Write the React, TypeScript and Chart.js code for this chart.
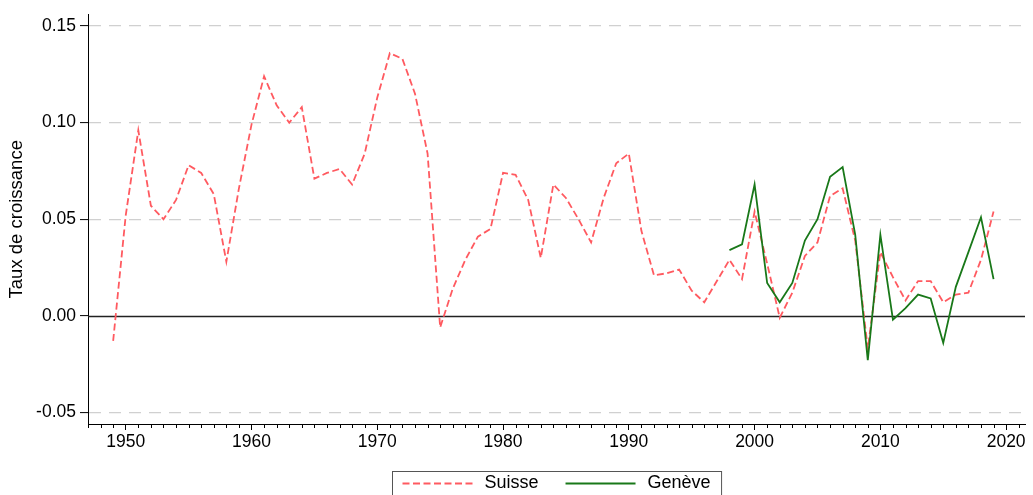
import React, { useEffect, useRef } from "react";
import { Chart, registerables } from "chart.js";

Chart.register(...registerables);

const FONT = "'Liberation Sans', Arial, Helvetica, sans-serif";

const suisseYears = [
  1949, 1950, 1951, 1952, 1953, 1954, 1955, 1956, 1957, 1958, 1959,
  1960, 1961, 1962, 1963, 1964, 1965, 1966, 1967, 1968, 1969,
  1970, 1971, 1972, 1973, 1974, 1975, 1976, 1977, 1978, 1979,
  1980, 1981, 1982, 1983, 1984, 1985, 1986, 1987, 1988, 1989,
  1990, 1991, 1992, 1993, 1994, 1995, 1996, 1997, 1998, 1999,
  2000, 2001, 2002, 2003, 2004, 2005, 2006, 2007, 2008, 2009,
  2010, 2011, 2012, 2013, 2014, 2015, 2016, 2017, 2018, 2019,
];
const suisseValues = [
  -0.013, 0.052, 0.096, 0.057, 0.05, 0.06, 0.078, 0.074, 0.063, 0.028, 0.066,
  0.099, 0.124, 0.109, 0.1, 0.108, 0.071, 0.074, 0.076, 0.068, 0.084,
  0.113, 0.136, 0.133, 0.115, 0.084, -0.006, 0.014, 0.029, 0.041, 0.045,
  0.074, 0.073, 0.06, 0.03, 0.068, 0.061, 0.05, 0.038, 0.061, 0.079,
  0.084, 0.044, 0.021, 0.022, 0.024, 0.013, 0.007, 0.018, 0.029, 0.019,
  0.054, 0.027, -0.001, 0.012, 0.031, 0.038, 0.062, 0.066, 0.039, -0.017,
  0.033, 0.02, 0.008, 0.018, 0.018, 0.007, 0.011, 0.012, 0.029, 0.054,
];

const geneveYears = [
  1998, 1999, 2000, 2001, 2002, 2003, 2004, 2005, 2006, 2007, 2008,
  2009, 2010, 2011, 2012, 2013, 2014, 2015, 2016, 2017, 2018, 2019,
];
const geneveValues = [
  0.034, 0.037, 0.068, 0.017, 0.007, 0.017, 0.039, 0.05, 0.072, 0.077, 0.042,
  -0.023, 0.042, -0.002, 0.004, 0.011, 0.009, -0.014, 0.015, 0.033, 0.051, 0.019,
];

const xTickValues = [1950, 1960, 1970, 1980, 1990, 2000, 2010, 2020];
const xTickLabels = ["1950", "1960", "1970", "1980", "1990", "2000", "2010", "2020"];
const yTickValues = [-0.05, 0, 0.05, 0.1, 0.15];
const yTickLabels = ["-0.05", "0.00", "0.05", "0.10", "0.15"];

const seriesLabels = ["Suisse", "Genève"];
const yTitle = "Taux de croissance";

const decorPlugin = {
  id: "decor",
  beforeDatasetsDraw(chart: any) {
    const { ctx, chartArea } = chart;
    const y = Math.round(chart.scales.y.getPixelForValue(0)) + 0.5;
    ctx.save();
    ctx.strokeStyle = "#222";
    ctx.lineWidth = 1.4;
    ctx.beginPath();
    ctx.moveTo(chartArea.left, y);
    ctx.lineTo(chartArea.right, y);
    ctx.stroke();
    ctx.restore();
  },
  afterDraw(chart: any) {
    const { ctx, chartArea } = chart;
    const xs = chart.scales.x;
    ctx.save();
    // minor year ticks
    ctx.strokeStyle = "#000";
    ctx.lineWidth = 1;
    for (let v = Math.ceil(xs.min); v <= Math.floor(xs.max); v++) {
      if (v % 10 === 0) continue;
      const px = Math.round(xs.getPixelForValue(v)) + 0.5;
      ctx.beginPath();
      ctx.moveTo(px, chartArea.bottom);
      ctx.lineTo(px, chartArea.bottom + 4);
      ctx.stroke();
    }
    // boxed legend
    const ds = chart.data.datasets;
    ctx.font = "18px " + FONT;
    const lineLen = 70;
    const padL = 10;
    const gapText = 12;
    const itemGap = 27;
    const padR = 11;
    const widths = ds.map((d: any) => ctx.measureText(d.label).width);
    let total = padL + padR;
    widths.forEach((w: number, i: number) => {
      total += lineLen + gapText + w + (i > 0 ? itemGap : 0);
    });
    const cx = (chartArea.left + chartArea.right) / 2;
    const left = Math.round(cx - total / 2) + 0.5;
    const top = 471.5;
    const midY = 483.5;
    ctx.strokeStyle = "#555";
    ctx.lineWidth = 1;
    ctx.strokeRect(left, top, total, 40);
    let x = left + padL;
    ds.forEach((d: any, i: number) => {
      if (i > 0) x += itemGap;
      ctx.save();
      ctx.strokeStyle = d.borderColor;
      ctx.lineWidth = d.borderWidth;
      ctx.setLineDash(d.borderDash || []);
      ctx.beginPath();
      ctx.moveTo(x, midY);
      ctx.lineTo(x + lineLen, midY);
      ctx.stroke();
      ctx.restore();
      x += lineLen + gapText;
      ctx.fillStyle = "#000";
      ctx.textBaseline = "middle";
      ctx.textAlign = "left";
      ctx.fillText(d.label, x, midY);
      x += widths[i];
    });
    ctx.restore();
  },
};

export default function App() {
  const ref = useRef<HTMLCanvasElement | null>(null);
  useEffect(() => {
    if (!ref.current) return;
    const chart = new Chart(ref.current, {
      type: "line",
      data: {
        datasets: [
          {
            label: seriesLabels[0],
            data: suisseYears.map((x, i) => ({ x, y: suisseValues[i] })),
            borderColor: "#ff5a60",
            borderWidth: 1.8,
            borderDash: [7, 3.5],
            pointRadius: 0,
            tension: 0,
            fill: false,
            order: 1,
          },
          {
            label: seriesLabels[1],
            data: geneveYears.map((x, i) => ({ x, y: geneveValues[i] })),
            borderColor: "#197819",
            borderWidth: 1.8,
            pointRadius: 0,
            tension: 0,
            fill: false,
            order: 0,
          },
        ],
      },
      options: {
        animation: false,
        responsive: false,
        layout: { padding: { top: 13, right: 8, bottom: 41, left: 0 } },
        plugins: {
          legend: { display: false },
          tooltip: { enabled: false },
        },
        scales: {
          x: {
            type: "linear",
            min: 1947,
            max: 2021.5,
            afterBuildTicks: (s: any) => {
              s.ticks = xTickValues.map((v) => ({ value: v }));
            },
            afterFit: (s: any) => {
              s.height = 30;
            },
            grid: {
              drawOnChartArea: false,
              drawTicks: true,
              tickLength: 6,
              tickColor: "#000",
              tickWidth: 1,
            },
            border: { display: true, color: "#000", width: 1 },
            ticks: {
              autoSkip: false,
              maxRotation: 0,
              padding: 2,
              color: "#000",
              font: { size: 17.5, family: FONT },
              callback: (v: any) => xTickLabels[xTickValues.indexOf(Number(v))] ?? "",
            },
          },
          y: {
            min: -0.056,
            max: 0.156,
            afterBuildTicks: (s: any) => {
              s.ticks = yTickValues.map((v) => ({ value: v }));
            },
            afterFit: (s: any) => {
              s.width = 88;
            },
            grid: {
              color: (c: any) =>
                c.tick && Math.abs(c.tick.value) < 1e-9 ? "rgba(0,0,0,0)" : "#d0d0d0",
              lineWidth: 1.2,
              drawTicks: true,
              tickLength: 8,
              tickColor: "#000",
              tickWidth: 1,
            },
            border: { display: true, color: "#000", width: 1, dash: [12, 8] },
            ticks: {
              padding: 4,
              color: "#000",
              font: { size: 17.5, family: FONT },
              callback: (v: any) => {
                const i = yTickValues.findIndex((t) => Math.abs(t - Number(v)) < 1e-9);
                return i >= 0 ? yTickLabels[i] : "";
              },
            },
            title: {
              display: true,
              text: yTitle,
              color: "#000",
              font: { size: 18.5, family: FONT },
              padding: { top: 6, bottom: 0 },
            },
          },
        },
      },
      plugins: [decorPlugin],
    } as any);
    return () => chart.destroy();
  }, []);
  return (
    <div style={{ position: "absolute", left: 0, top: 0, width: 1033, height: 495, background: "#fff" }}>
      <canvas ref={ref} width={1033} height={495} style={{ display: "block" }} />
    </div>
  );
}
